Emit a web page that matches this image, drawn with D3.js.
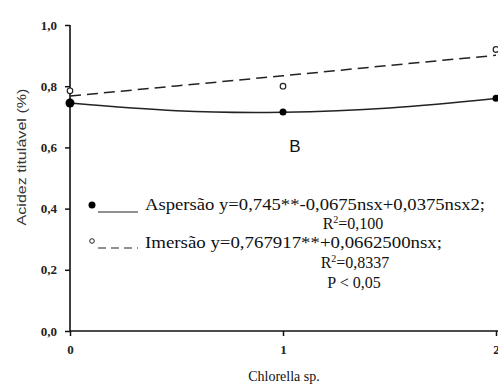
<!DOCTYPE html>
<html lang="pt-BR">
<head>
    <meta charset="utf-8">
    <title>Acidez titulável</title>
    <script src="https://d3js.org/d3.v7.min.js" charset="utf-8"></script>
    <style type="text/css">
        body { margin: 0; background: #fff; }
        svg text { font-family: "Liberation Serif", serif; fill: #111; }
    </style>
</head>
<body>
	<svg width="498" height="385"></svg>
	<script>

	    // dose de Chlorella sp.
	    var doses = [0, 1, 2];
	    var yTicks = [0, 0.2, 0.4, 0.6, 0.8, 1.0];

	    // valores observados
	    var aspersao = [0.745, 0.716, 0.761];
	    var imersao = [0.785, 0.800, 0.920];

	    // curvas ajustadas
	    var fitX = [0, 0.5, 1, 1.5, 2];
	    var aspersaoFit = [0.745, 0.720, 0.715, 0.729, 0.760];
	    var imersaoFit = [0.768, 0.801, 0.834, 0.868, 0.901];

	    var serif = "Liberation Serif";
	    var sans = "Liberation Sans";

	    var svg = d3.select("svg");

	    var x = d3.scaleLinear().domain([0, 2]).range([70, 496]),
	        y = d3.scaleLinear().domain([0, 1]).range([331, 25]);

	    // eixos
	    svg.append("g")
	       .attr("transform", "translate(0,331)")
	       .attr("font-family", serif)
	       .call(d3.axisBottom(x).tickValues(doses).tickSize(5).tickPadding(9).tickFormat(d3.format("d")))
	       .call(function(g) {
	           g.attr("font-family", serif);
	           g.select(".domain").attr("stroke", "#111").attr("stroke-width", 1.6).attr("d", "M70,0H498");
	           g.selectAll("line").attr("stroke", "#111").attr("stroke-width", 1.5);
	           g.selectAll("text").attr("font-size", 13).attr("font-weight", "bold").style("fill", "#222");
	       });

	    svg.append("g")
	       .attr("transform", "translate(70,0)")
	       .call(d3.axisLeft(y).tickValues(yTicks).tickSize(5).tickPadding(8)
	               .tickFormat(function(d) { return d3.format(".1f")(d).replace(".", ","); }))
	       .call(function(g) {
	           g.attr("font-family", serif);
	           g.select(".domain").attr("stroke", "#111").attr("stroke-width", 1.6).attr("d", "M0,331V25");
	           g.selectAll("line").attr("stroke", "#111").attr("stroke-width", 1.5);
	           g.selectAll("text").attr("font-size", 13).attr("font-weight", "bold").style("fill", "#222");
	       });

	    // curvas
	    var line = d3.line()
	        .x(function(d) { return x(d[0]); })
	        .y(function(d) { return y(d[1]); })
	        .curve(d3.curveNatural);

	    svg.append("path")
	       .datum(fitX.map(function(v, i) { return [v, imersaoFit[i]]; }))
	       .attr("d", line)
	       .attr("fill", "none")
	       .attr("stroke", "#222")
	       .attr("stroke-width", 1.5)
	       .attr("stroke-dasharray", "11,6");

	    svg.append("path")
	       .datum(fitX.map(function(v, i) { return [v, aspersaoFit[i]]; }))
	       .attr("d", line)
	       .attr("fill", "none")
	       .attr("stroke", "#222")
	       .attr("stroke-width", 1.5);

	    // pontos
	    svg.selectAll(".asp")
	       .data(doses)
	       .enter().append("circle")
	       .attr("cx", function(d) { return x(d); })
	       .attr("cy", function(d, i) { return y(aspersao[i]); })
	       .attr("r", function(d, i) { return i == 0 ? 4.5 : 3.5; })
	       .attr("fill", "#000");

	    svg.selectAll(".ime")
	       .data(doses)
	       .enter().append("circle")
	       .attr("cx", function(d) { return x(d); })
	       .attr("cy", function(d, i) { return y(imersao[i]); })
	       .attr("r", 2.8)
	       .attr("fill", "#fff")
	       .attr("stroke", "#222")
	       .attr("stroke-width", 1.2);

	    // rotulos
	    svg.append("text")
	       .attr("transform", "translate(26,157) rotate(-90)")
	       .attr("text-anchor", "middle")
	       .attr("font-size", 12)
	       .attr("textLength", 137)
	       .attr("lengthAdjust", "spacingAndGlyphs")
	       .style("font-family", sans)
	       .style("fill", "#333")
	       .text("Acidez titulável  (%)");

	    svg.append("text")
	       .attr("x", 284).attr("y", 381)
	       .attr("text-anchor", "middle")
	       .attr("font-size", 14)
	       .text("Chlorella sp.");

	    svg.append("text")
	       .attr("x", 295).attr("y", 152)
	       .attr("text-anchor", "middle")
	       .attr("font-size", 17)
	       .style("font-family", sans)
	       .text("B");

	    // legenda
	    svg.append("circle").attr("cx", 92).attr("cy", 205).attr("r", 3.5).attr("fill", "#000");
	    svg.append("line").attr("x1", 98).attr("x2", 138).attr("y1", 212).attr("y2", 212)
	       .attr("stroke", "#222").attr("stroke-width", 1.2);
	    svg.append("circle").attr("cx", 92).attr("cy", 241).attr("r", 2.3)
	       .attr("fill", "#fff").attr("stroke", "#222").attr("stroke-width", 1);
	    svg.append("line").attr("x1", 98).attr("x2", 138).attr("y1", 248).attr("y2", 248)
	       .attr("stroke", "#222").attr("stroke-width", 1.2).attr("stroke-dasharray", "8,5");

	    svg.append("text").attr("x", 145).attr("y", 210).attr("font-size", 16)
	       .attr("textLength", 340).attr("lengthAdjust", "spacingAndGlyphs")
	       .text("Aspersão y=0,745**-0,0675nsx+0,0375nsx2;");
	    svg.append("text").attr("x", 145).attr("y", 248).attr("font-size", 16)
	       .attr("textLength", 297).attr("lengthAdjust", "spacingAndGlyphs")
	       .text("Imersão y=0,767917**+0,0662500nsx;");

	    var r1 = svg.append("text").attr("x", 353).attr("y", 229).attr("font-size", 16).attr("text-anchor", "middle");
	    r1.append("tspan").text("R");
	    r1.append("tspan").attr("font-size", 10).attr("dy", -6).text("2");
	    r1.append("tspan").attr("dy", 6).text("=0,100");

	    var r2 = svg.append("text").attr("x", 355).attr("y", 268).attr("font-size", 16).attr("text-anchor", "middle");
	    r2.append("tspan").text("R");
	    r2.append("tspan").attr("font-size", 10).attr("dy", -6).text("2");
	    r2.append("tspan").attr("dy", 6).text("=0,8337");

	    svg.append("text").attr("x", 354).attr("y", 288).attr("font-size", 16).attr("text-anchor", "middle")
	       .text("P < 0,05");

	</script>
</body>
</html>
